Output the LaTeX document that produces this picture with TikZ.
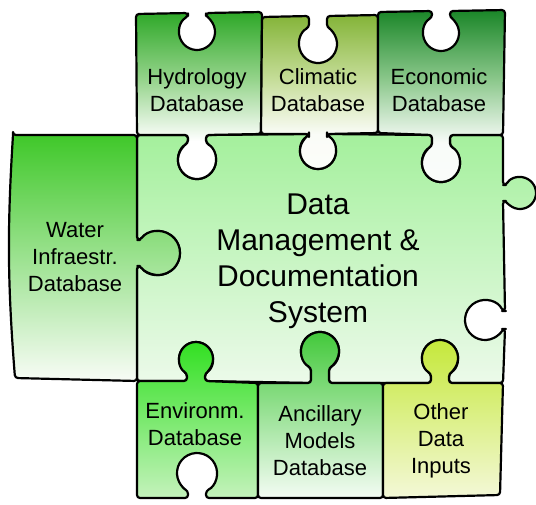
\documentclass[tikz,border=0pt]{standalone}
\usepackage{fontspec}
\setmainfont{Liberation Sans}
\definecolor{hyT}{RGB}{46,168,40}
\definecolor{hyM}{RGB}{150,212,140}
\definecolor{clT}{RGB}{132,180,56}
\definecolor{clM}{RGB}{196,220,150}
\definecolor{ecT}{RGB}{26,134,40}
\definecolor{ecM}{RGB}{140,200,140}
\definecolor{mnT}{RGB}{164,240,156}
\definecolor{mnB}{RGB}{236,250,234}
\definecolor{waT}{RGB}{64,200,42}
\definecolor{waB}{RGB}{248,252,246}
\definecolor{enT}{RGB}{48,224,32}
\definecolor{enB}{RGB}{196,242,188}
\definecolor{anT}{RGB}{64,200,56}
\definecolor{anB}{RGB}{244,252,244}
\definecolor{otT}{RGB}{196,232,56}
\definecolor{otB}{RGB}{244,248,216}
\pgfdeclareverticalshading{hyS}{100bp}{color(0bp)=(white); color(37bp)=(white); color(55bp)=(hyM); color(75bp)=(hyT); color(100bp)=(hyT)}
\pgfdeclareverticalshading{clS}{100bp}{color(0bp)=(white); color(37bp)=(white!96!clT); color(55bp)=(clM); color(75bp)=(clT); color(100bp)=(clT)}
\pgfdeclareverticalshading{ecS}{100bp}{color(0bp)=(white); color(37bp)=(white!97!ecT); color(55bp)=(ecM); color(75bp)=(ecT); color(100bp)=(ecT)}
% tab macros: #1 position along edge, #2 edge coordinate, #3 direction, #4 radius, #5 centre offset, #6 neck half-width
\newcommand\tabR[6]{-- ({#1-#6},#2) -- ({#1-#6},{#2+#3*(#5-sqrt(#4*#4-#6*#6))}) arc[start angle={180+#3*acos(#6/#4)}, delta angle={-#3*(180+2*acos(#6/#4))}, radius=#4] -- ({#1+#6},#2)}
\newcommand\tabL[6]{-- ({#1+#6},#2) -- ({#1+#6},{#2+#3*(#5-sqrt(#4*#4-#6*#6))}) arc[start angle={-#3*acos(#6/#4)}, delta angle={#3*(180+2*acos(#6/#4))}, radius=#4] -- ({#1-#6},#2)}
\newcommand\tabD[6]{-- (#2,{#1-#6}) -- ({#2+#3*(#5-sqrt(#4*#4-#6*#6))},{#1-#6}) arc[start angle={-90-#3*acos(#6/#4)}, delta angle={#3*(180+2*acos(#6/#4))}, radius=#4] -- (#2,{#1+#6})}
\newcommand\tabU[6]{-- (#2,{#1+#6}) -- ({#2+#3*(#5-sqrt(#4*#4-#6*#6))},{#1+#6}) arc[start angle={90+#3*acos(#6/#4)}, delta angle={-#3*(180+2*acos(#6/#4))}, radius=#4] -- (#2,{#1-#6})}
\tikzset{
  piece/.style={draw=black, line width=2.2pt, line join=round, rounded corners=3pt},
  lbl/.style={font=\fontsize{22}{27}\selectfont, align=center, text=black},
  mainlbl/.style={font=\fontsize{30}{36}\selectfont, align=center, text=black}
}
\begin{document}
\begin{tikzpicture}[x=1pt,y=-1pt]
\useasboundingbox (0,0) rectangle (536,504);
% main piece
\path[piece, top color=mnT, bottom color=mnB] (137,135)
  \tabR{197}{135}{1}{19}{25}{9} \tabR{318}{134}{1}{18}{17}{9} \tabR{441}{135}{1}{19}{28}{9}
  -- (503,135) \tabD{193}{503}{1}{16}{17}{8} \tabD{320}{505}{-1}{20}{20}{9}
  -- (503,383) \tabL{440}{383}{-1}{18}{25}{9} \tabL{320}{383}{-1}{19}{32}{9} \tabL{196}{381}{-1}{17}{22}{9}
  -- (137,381) \tabU{253}{137}{1}{22}{21}{13} -- cycle;
% top row
\path[piece, shading=hyS] (136,14)
  \tabR{197}{13}{1}{18}{19}{9} -- (262,12) -- (261,134)
  \tabL{197}{135}{1}{19}{25}{9} -- (137,135) -- cycle;
\path[piece, shading=clS] (262,17)
  \tabR{318}{16}{1}{19}{28}{9} -- (378,15) -- (378,133)
  \tabL{318}{134}{1}{18}{17}{9} -- (261,134) -- cycle;
\path[piece, shading=ecS] (378,12)
  \tabR{441}{11}{1}{18}{22}{9} -- (505,10) -- (503,135)
  \tabL{441}{135}{1}{19}{28}{9} -- (378,133) -- cycle;
% water
\path[piece, top color=waT, bottom color=waB] (13,135) -- (137,135)
  \tabD{253}{137}{1}{22}{21}{13} -- (137,381) -- (15,378) to[bend left=4] (13,135) -- cycle;
% bottom row
\path[piece, top color=enT, bottom color=enB] (137,381)
  \tabR{196}{381}{-1}{17}{22}{9} -- (258,383) -- (258,498)
  \tabL{197}{498}{-1}{20}{25}{9} -- (137,498) -- cycle;
\path[piece, top color=anT, bottom color=anB] (258,383)
  \tabR{320}{383}{-1}{19}{32}{9} -- (383,383) -- (383,498) -- (258,498) -- cycle;
\path[piece, top color=otT, bottom color=otB] (383,383)
  \tabR{440}{383}{-1}{18}{25}{9} -- (503,383) -- (500,495) -- (383,498) -- cycle;
% labels
\node[mainlbl] (main) at (318,261) {Data\\Management \&\\Documentation\\System};
\node[lbl] (hyd) at (197,90) {Hydrology\\Database};
\node[lbl] (cli) at (318,90) {Climatic\\Database};
\node[lbl] (eco) at (439,90) {Economic\\Database};
\node[lbl] (wat) at (75,257) {Water\\Infraestr.\\Database};
\node[lbl] (env) at (195,424) {Environm.\\Database};
\node[lbl] (anc) at (320,441) {Ancillary\\Models\\Database};
\node[lbl] (oth) at (441,441) {Other\\Data\\Inputs};
\end{tikzpicture}
\end{document}
